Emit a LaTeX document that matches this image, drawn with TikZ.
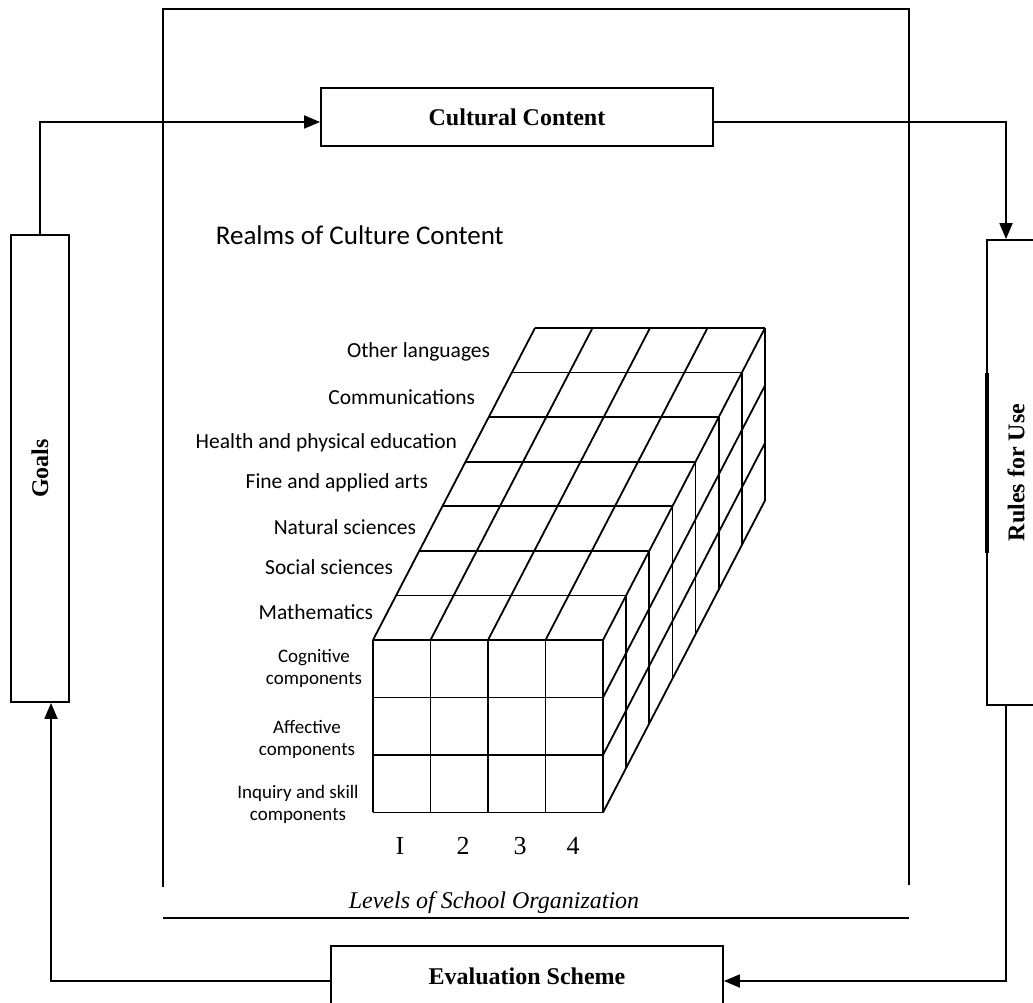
\documentclass[tikz,border=0pt]{standalone}
\usepackage{fontspec}
\usepackage{graphicx}
\setmainfont{Liberation Serif}
\newfontfamily\calibri{Carlito}
\usetikzlibrary{arrows.meta}

\tikzset{
	box/.style={draw, line width=1.8pt, inner sep=0pt, font=\fontsize{24}{28}\selectfont\bfseries},
	flow/.style={line width=1.8pt, -{Triangle[length=16pt,width=13pt]}},
	realm/.style={anchor=east, inner sep=0pt, font=\calibri\fontsize{21.5}{24}\selectfont},
	comp/.style={align=center, inner sep=0pt, font=\calibri\fontsize{19}{22}\selectfont},
	level/.style={inner sep=0pt, font=\fontsize{26}{28}\selectfont},
}

\begin{document}
\begin{tikzpicture}[x=1pt,y=-1pt,line width=1.8pt]
	\useasboundingbox (0,0) rectangle (1033,1003);

	% frame round the cube
	\draw (163,887) -- (163,9) -- (909,9) -- (909,885);
	\draw (163,918) -- (909,918);
	\node[inner sep=0pt, font=\fontsize{24}{28}\selectfont\itshape] (levels) at (494,903) {Levels of School Organization};

	% the four boxes
	\node[box, minimum width=392pt, minimum height=58pt] (cultural) at (517,117) {Cultural Content};
	\node[box, minimum width=392pt, minimum height=60pt] (evaluation) at (527,976) {Evaluation Scheme};
	\node[box, minimum width=58pt, minimum height=467pt] (goals) at (40,468.5) {\rotatebox{90}{Goals}};
	\node[box, minimum width=58pt, minimum height=465pt] (rules) at (1016,472.5) {\rotatebox{90}{Rules for Use}};
	\draw[line width=3.2pt] (987,373) -- (987,553);

	% the cycle
	\draw[flow] (goals.north) |- ([yshift=-5pt]cultural.west);
	\draw[flow] ([yshift=-5pt]cultural.east) -| ([xshift=-10pt]rules.north);
	\draw[flow] ([xshift=-10pt]rules.south) |- ([yshift=-5pt]evaluation.east);
	\draw[flow] ([yshift=-5pt]evaluation.west) -| ([xshift=11pt]goals.south);

	\node[anchor=west, inner sep=0pt, font=\calibri\fontsize{27}{29}\selectfont] (realms) at (215,235) {Realms of Culture Content};

	% front face
	\foreach \i in {0,...,4}
		\draw (373+57.5*\i,640) -- (373+57.5*\i,812);
	\foreach \j in {0,...,3}
		\draw (373,640+57.5*\j) -- (603,640+57.5*\j);
	% top face
	\foreach \i in {0,...,4}
		\draw (373+57.5*\i,640) -- ++(161.98,-311.99);
	\foreach \k in {1,...,7}
		\draw (373+23.14*\k,640-44.57*\k) -- ++(230,0);
	% side face
	\foreach \k in {1,...,7}
		\draw (603+23.14*\k,640-44.57*\k) -- ++(0,172.5);
	\foreach \j in {1,...,3}
		\draw (603,640+57.5*\j) -- ++(161.98,-311.99);

	% realms
	\node[realm] (lang) at (491,352) {Other languages};
	\node[realm] (comm) at (476,397) {Communications};
	\node[realm] (health) at (458,443) {Health and physical education};
	\node[realm] (arts) at (429,483) {Fine and applied arts};
	\node[realm] (nat) at (417,527) {Natural sciences};
	\node[realm] (soc) at (394,567) {Social sciences};
	\node[realm] (math) at (374,612) {Mathematics};

	% components
	\node[comp] (cog) at (314,668) {Cognitive\\components};
	\node[comp] (aff) at (307,739) {Affective\\components};
	\node[comp] (inq) at (298,804.5) {Inquiry and skill\\components};

	% levels
	\node[level] (l1) at (400,846) {I};
	\node[level] (l2) at (463,846) {2};
	\node[level] (l3) at (520,846) {3};
	\node[level] (l4) at (573,846) {4};
\end{tikzpicture}
\end{document}
